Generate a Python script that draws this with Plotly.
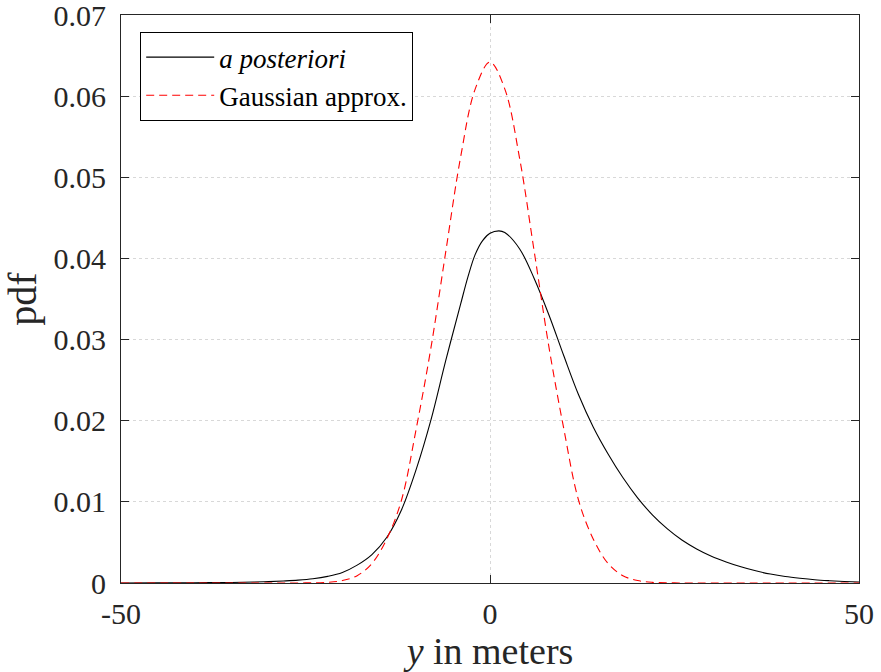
import plotly.graph_objects as go

# a posteriori pdf
post_x = [-50, -45, -40, -35, -32, -30, -28, -26, -24, -22, -20, -18, -16, -14, -12, -10, -8,
          -6, -4, -3, -2, -1, 0, 1.2, 2, 4, 6, 8, 10, 12, 14, 16, 18, 20, 22, 24, 26, 28, 30,
          32, 34, 36, 38, 40, 42, 44, 46, 48, 50]
post_y = [0.0, 0.00001, 0.00003, 0.00007, 0.00012, 0.00017, 0.00025, 0.00035, 0.00052, 0.00082,
          0.0013, 0.0022, 0.0035, 0.0056, 0.0090, 0.0140, 0.0201, 0.0274, 0.0343, 0.0377, 0.0405,
          0.0422, 0.0431, 0.0434, 0.0432, 0.0412, 0.0375, 0.0330, 0.0280, 0.0232, 0.0192, 0.0159,
          0.0130, 0.0105, 0.0084, 0.0067, 0.0053, 0.0042, 0.0033, 0.0026, 0.0020, 0.0015, 0.0011,
          0.0008, 0.00058, 0.0004, 0.00028, 0.00019, 0.00012]

# Gaussian approximation
gauss_x = [-50, -30, -25, -22, -20, -18, -16, -14, -12, -10, -8, -6, -4, -2, 0,
           2, 4, 6, 8, 10, 12, 14, 16, 18, 20, 22, 25, 30, 50]
gauss_y = [0.0, 0.0, 0.00001, 0.00008, 0.0003, 0.0009, 0.0024, 0.0054, 0.0102, 0.0190, 0.0290,
           0.0408, 0.0524, 0.0609, 0.0642, 0.0609, 0.0524, 0.0408, 0.0290, 0.0190, 0.0102, 0.0054,
           0.0024, 0.0009, 0.0003, 0.00008, 0.00001, 0.0, 0.0]

x_ticks = [-50, 0, 50]
x_ticklabels = ["-50", "0", "50"]
y_ticks = [0, 0.01, 0.02, 0.03, 0.04, 0.05, 0.06, 0.07]
y_ticklabels = ["0", "0.01", "0.02", "0.03", "0.04", "0.05", "0.06", "0.07"]

FONT = "Liberation Serif"
TXT = "#262626"

fig = go.Figure()
fig.add_trace(go.Scatter(x=post_x, y=post_y, mode="lines", name="<i>a posteriori</i>",
                         line=dict(color="black", width=1.1, shape="spline", smoothing=1.0)))
fig.add_trace(go.Scatter(x=gauss_x, y=gauss_y, mode="lines", name="Gaussian approx.",
                         line=dict(color="#ff0000", width=1.1, dash="8px,5px", shape="spline", smoothing=1.0)))

axis_common = dict(showline=True, linecolor=TXT, linewidth=1, mirror="ticks",
                   ticks="inside", ticklen=8, tickcolor=TXT, tickwidth=1,
                   showgrid=True, gridcolor="#d8d8d8", griddash="dot", gridwidth=1,
                   zeroline=False, automargin=False, ticklabeloverflow="allow",
                   tickfont=dict(family=FONT, size=30, color=TXT))

fig.update_xaxes(range=[-50, 50], tickvals=x_ticks, ticktext=x_ticklabels, ticklabelstandoff=4,
                 title=dict(text="<i>y</i> in meters", font=dict(family=FONT, size=38, color=TXT),
                            standoff=10),
                 **axis_common)
fig.update_yaxes(range=[0, 0.070001], tickvals=y_ticks, ticktext=y_ticklabels, ticklabelstandoff=8,
                 title=dict(text="pdf", font=dict(family=FONT, size=40, color=TXT), standoff=6),
                 **axis_common)

fig.update_layout(
    width=881, height=672,
    margin=dict(l=121, r=22, t=15, b=89),
    plot_bgcolor="white", paper_bgcolor="white",
    font=dict(family=FONT, color=TXT),
    legend=dict(x=0.026, y=0.97, xanchor="left", yanchor="top",
                bgcolor="white", bordercolor="black", borderwidth=1,
                font=dict(family=FONT, size=27, color="black"),
                tracegroupgap=0, itemwidth=68),
    showlegend=True,
)

fig.write_html("out.html", config={"displayModeBar": False},
               post_script="document.body.style.margin='0';")
